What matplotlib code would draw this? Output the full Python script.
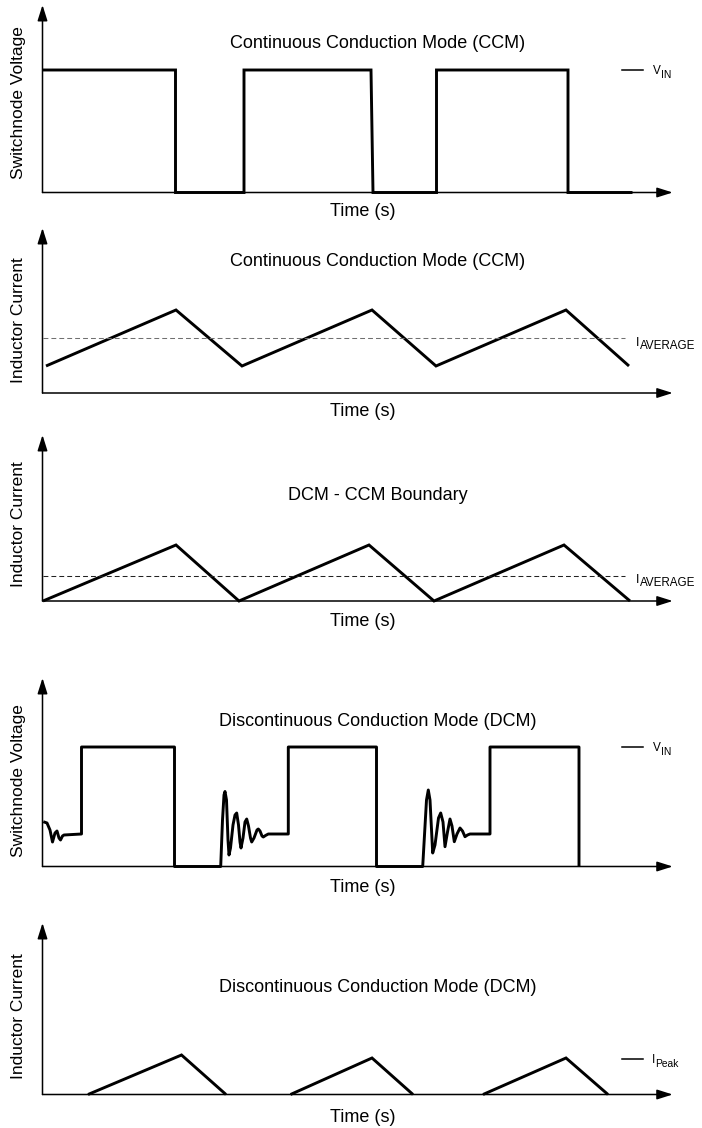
import matplotlib
matplotlib.use("Agg")
import numpy as np
import matplotlib.pyplot as plt
from matplotlib.transforms import blended_transform_factory

plt.rcParams['font.family'] = ['Liberation Sans', 'DejaVu Sans']
plt.rcParams['lines.scale_dashes'] = False

# ---------------- data (time units / signal units, origin at axes corner) -------------
# Panel 1: CCM switch-node voltage
sw_ccm_t = [0, 133, 133, 201.5, 201.5, 328.5, 330.5, 394, 394, 525.5, 525.5, 590]
sw_ccm_v = [122.5, 122.5, 0, 0, 122.5, 122.5, 0, 0, 122.5, 122.5, 0, 0]
vin_ccm = 122.5

# Panel 2: CCM inductor current
il_ccm_t = [3.5, 133.5, 199.5, 329.5, 393.5, 523.5, 586.5]
il_ccm_v = [27, 83, 27, 83, 27, 83, 27]
iavg_ccm = 54.5

# Panel 3: DCM-CCM boundary inductor current
il_bnd_t = [0.5, 133.5, 196.5, 326.5, 391.5, 521.5, 587.5]
il_bnd_v = [0, 56, 0, 56, 0, 56, 0]
iavg_bnd = 25

# Panel 4: DCM switch-node voltage (with ringing)
sw_dcm_t = [0.8, 4.5, 7.5, 10, 12.5, 14.5, 16.5, 18, 20, 21.5, 39,
            39, 132, 132, 178.2,
            180, 181.5, 182.5, 184, 185.5, 186.5, 188, 190.5, 192.5, 194.2, 196, 197.5,
            198.5, 200.5, 202.5, 204.2, 206, 208, 209.2, 211.5, 214.5, 215.8, 217.5,
            219.5, 220.8, 223, 225.8, 245.8,
            245.8, 334, 334, 380.2,
            384, 385.8, 387.5, 390.2, 392.5, 396, 398.2, 400.5, 402.5, 405, 407.5,
            409.5, 411.8, 414.5, 417.5, 420, 422.5, 425, 427.5, 447.5,
            447.5, 536.5, 536.5]
sw_dcm_v = [44.8, 43.5, 36.5, 24.5, 33.5, 35.5, 28.5, 26.5, 30.5, 31.5, 32.5,
            119.5, 119.5, 0, 0,
            46.5, 71.5, 75, 66.5, 26.5, 11.5, 18.5, 41.5, 51.5, 53.5, 41.5, 24.5,
            18.5, 28.5, 44.5, 47.5, 40.5, 28.5, 24.5, 28.5, 36.5, 37.5, 35.5,
            30.5, 29.5, 31, 32.5, 32.5,
            119.5, 119.5, 0, 0,
            66.5, 76.5, 66.5, 13.5, 21.5, 48.5, 53.5, 44.5, 19.8, 34.5, 47.5,
            40.5, 24.8, 32.5, 38.5, 35.5, 29.8, 31.5, 32.5, 32.5,
            119.5, 119.5, 0]
vin_dcm = 119.5

# Panel 5: DCM inductor current
dcm_start = [45.5, 248, 440.5]
dcm_peak_t = [139, 329.5, 523.5]
dcm_end = [183.5, 370.5, 565.5]
dcm_peak = [39.5, 36.5, 36.5]
ipeak_dcm = 36

titles = ["Continuous Conduction Mode (CCM)", "Continuous Conduction Mode (CCM)",
          "DCM - CCM Boundary", "Discontinuous Conduction Mode (DCM)",
          "Discontinuous Conduction Mode (DCM)"]
ylabels = ["Switchnode Voltage", "Inductor Current", "Inductor Current",
           "Switchnode Voltage", "Inductor Current"]
xlabel = "Time (s)"

# ---------------- layout (pixels) -----------------------------------------------------
W, H = 702, 1128
fig = plt.figure(figsize=(W / 100, H / 100), dpi=100)
X0, X1 = 42.5, 672.7
XMAX = X1 - X0
# (arrow top y, baseline y, title y, time-label y, ylabel centre y)
panels = [
    (5, 192.5, 43, 211, 103),
    (228, 393, 262, 412, 320),
    (435, 601, 495, 622, 524),
    (678, 866.5, 722, 888, 781),
    (923, 1094.5, 987, 1117, 1016),
]

WAVE_LW = 2.1
AX_LW = 1.1


def fx(x):
    return x / W


def fy(y):
    return 1 - y / H


axes = []
for (ytop, ybase, ty, tly, yly), title, ylab in zip(panels, titles, ylabels):
    ax = fig.add_axes([fx(X0), fy(ybase), (X1 - X0) / W, (ybase - ytop) / H])
    ax.set_xlim(0, XMAX)
    ax.set_ylim(0, ybase - ytop)
    ax.axis('off')
    arrow = dict(arrowstyle='-|>,head_length=0.95,head_width=0.3', lw=AX_LW,
                 color='black', shrinkA=0, shrinkB=0, mutation_scale=10)
    ax.annotate('', xy=(0, 1), xytext=(0, 0), xycoords='axes fraction', arrowprops=arrow)
    ax.annotate('', xy=(1, 0), xytext=(0, 0), xycoords='axes fraction', arrowprops=arrow)
    fig.text(fx(378), fy(ty), title, ha='center', va='center', fontsize=13)
    fig.text(fx(363), fy(tly), xlabel, ha='center', va='center', fontsize=13)
    fig.text(fx(19), fy(yly), ylab, rotation=90, ha='center', va='center', fontsize=12.5)
    axes.append(ax)

wkw = dict(color='black', lw=WAVE_LW, clip_on=False, solid_joinstyle='miter',
           solid_capstyle='butt')

# Panel 1
ax = axes[0]
ax.plot(sw_ccm_t, sw_ccm_v, **wkw)

# Panel 2
ax = axes[1]
ax.plot(il_ccm_t, il_ccm_v, **wkw)
ax.hlines(iavg_ccm, 0, 582.5, colors='#707070', lw=0.75, linestyles=(0, (3.5, 2.2)))

# Panel 3
ax = axes[2]
ax.plot(il_bnd_t, il_bnd_v, **wkw)
ax.hlines(iavg_bnd, 0, 582.5, colors='#222222', lw=0.75, linestyles=(0, (3.5, 2.2)))

# Panel 4
ax = axes[3]
ax.plot(sw_dcm_t, sw_dcm_v, color='black', lw=WAVE_LW, clip_on=False,
        solid_joinstyle='round', solid_capstyle='butt')

# Panel 5
ax = axes[4]
for s, pt, e, pk in zip(dcm_start, dcm_peak_t, dcm_end, dcm_peak):
    ax.plot([s, pt, e], [0, pk, 0], **wkw)


# ---------------- right-hand level labels -------------------------------------------
def level_mark(ax, level, main, sub, sub_dx, xtext=653, sub_dy=-3.0):
    tr = blended_transform_factory(fig.transFigure, ax.transData)
    ax.plot([fx(622), fx(643)], [level, level], transform=tr, color='black',
            lw=AX_LW, clip_on=False)
    ax.annotate(main, xy=(fx(xtext), level), xycoords=tr, xytext=(0, -0.8),
                textcoords='offset points', ha='left', va='center', fontsize=8.5)
    ax.annotate(sub, xy=(fx(xtext), level), xycoords=tr, xytext=(sub_dx, sub_dy - 0.8),
                textcoords='offset points', ha='left', va='center', fontsize=7.4)


level_mark(axes[0], vin_ccm, 'V', 'IN', 5.4)
level_mark(axes[3], vin_dcm, 'V', 'IN', 5.4)
level_mark(axes[4], ipeak_dcm, 'I', 'Peak', 2.6, xtext=652)

for ax, lvl in ((axes[1], iavg_ccm), (axes[2], iavg_bnd)):
    tr = blended_transform_factory(fig.transFigure, ax.transData)
    ax.annotate('I', xy=(fx(636), lvl), xycoords=tr, xytext=(0, -3.2),
                textcoords='offset points', ha='left', va='center', fontsize=9)
    ax.annotate('AVERAGE', xy=(fx(636), lvl), xycoords=tr, xytext=(2.5, -5.2),
                textcoords='offset points', ha='left', va='center', fontsize=8.4)

fig.savefig('out.png', dpi=100)
